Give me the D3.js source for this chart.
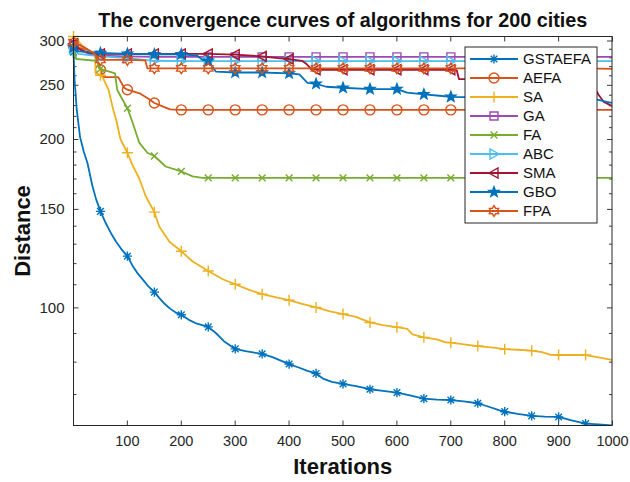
<!DOCTYPE html>
<html>
<head>
<meta charset="utf-8">
<script src="https://cdn.jsdelivr.net/npm/d3@7"></script>
<style>
  body { margin: 0; background: #fff; }
  text { font-family: "Liberation Sans", Arial, Helvetica, sans-serif; }
</style>
</head>
<body>
<svg id="chart" width="630" height="482"></svg>
<script>
// ---- data ---------------------------------------------------------------
const chartTitle = "The convergence curves of algorithms for 200 cities";
const xLabel = "Iterations";
const yLabel = "Distance";

const iterationTicks = [100, 200, 300, 400, 500, 600, 700, 800, 900, 1000];
const distanceTicks = [100, 150, 200, 250, 300];
const distanceMinorTicks = [70, 80, 90, 110, 120, 130, 140, 160, 170, 180, 190,
                            210, 220, 230, 240, 260, 270, 280, 290];
const iterationRange = [1, 1000];
const markerEvery = 50;   // markers on iterations 1, 51, 101, ...

const seriesNames = ["GSTAEFA", "AEFA", "SA", "GA", "FA", "ABC", "SMA", "GBO", "FPA"];
const seriesColors = ["#0072BD", "#D95319", "#EDB120", "#9B4BB3", "#77AC30",
                      "#4DBEEE", "#A2142F", "#0072BD", "#D95319"];
const seriesMarkers = ["asterisk", "circle", "plus", "square", "times",
                       "triangleRight", "triangleLeft", "pentagram", "hexagram"];

// [iteration, best distance]
const gstaefa = [[1,286],[3,255],[7,226],[13,202],[20,190],[27,181],[36,165],[43,156],
  [51,148.5],[60,142],[70,136],[80,131],[90,127],[101,123.5],[110,119],[120,115],[130,112],
  [140,109],[151,106.5],[160,104],[170,101.5],[180,99.5],[190,98],[201,97],[215,95],
  [230,93.5],[251,92.3],[265,90],[280,87],[301,84.3],[320,83.5],[351,82.6],[370,81.5],
  [390,80],[401,79.2],[420,78],[435,77],[451,76.2],[465,74.5],[480,73.6],[501,73],
  [525,72.3],[551,71.4],[575,70.9],[601,70.4],[625,69.6],[651,68.7],[675,68.4],[701,68.3],
  [725,67.9],[751,67.4],[770,66.5],[790,65.5],[801,65.1],[825,64.5],[851,64.0],[875,63.8],
  [901,63.7],[925,62.8],[951,62.0],[975,61.8],[1000,61.5]];
const aefa = [[1,293],[20,290],[40,285],[46,275],[51,266],[56,258],[84,258],[95,247],
  [101,245],[125,241],[140,236],[151,232],[165,229],[180,226],[201,225.5],[251,225.5],
  [301,225.5],[351,225.5],[401,225.5],[451,225.5],[501,225.5],[551,225.5],[601,225.5],
  [651,225.5],[701,225.5],[751,225.5],[801,225.5],[851,225.5],[901,225.5],[951,225.5],
  [1000,225.5]];
const sa = [[1,305],[20,292],[38,285],[41,283],[42,262],[51,260],[55,258],[60,252],[66,245],
  [75,225],[80,217],[88,200],[101,189],[110,180],[123,170],[135,158],[151,148],[160,139.5],
  [179,131],[201,126],[222,120.8],[251,116.2],[278,112.3],[301,110],[327,107.5],[351,105.6],
  [375,104.3],[401,103],[425,101.5],[451,100],[475,98.5],[501,97.3],[525,96.2],[551,94],
  [575,93],[601,92.2],[620,91.5],[630,89.5],[651,88.4],[675,87.7],[690,86.7],[701,86.5],
  [725,85.9],[751,85.3],[775,84.8],[801,84.2],[825,84],[851,83.7],[870,83.2],[885,82.3],
  [901,82.2],[925,82.2],[951,82.2],[970,81.6],[1000,80.6]];
const ga = [[1,295],[15,288],[30,284],[51,282],[101,281],[151,280.5],[201,280.5],[251,280.5],
  [301,280.5],[351,280.5],[401,280.5],[451,280.5],[501,280.5],[551,280.5],[601,280.5],
  [651,280.5],[701,280.5],[751,280.5],[801,280.5],[851,280.5],[901,280.5],[951,280.5],
  [1000,280.5]];
const fa = [[1,292],[6,278],[45,276],[48,268],[51,267],[78,262],[82,245],[90,237],[101,227],
  [110,215],[123,197],[138,189],[151,186.5],[172,178.6],[201,175],[222,171.5],[240,170.5],
  [251,170.5],[301,170.5],[351,170.5],[401,170.5],[451,170.5],[501,170.5],[551,170.5],
  [601,170.5],[651,170.5],[701,170.5],[751,170.5],[801,170.5],[851,170.5],[901,170.5],
  [951,170.5],[1000,170.5]];
const abc = [[1,290],[10,284],[51,281],[101,279],[151,276],[201,275.5],[251,275.5],[301,275.5],
  [351,275.5],[401,275.5],[451,275.5],[501,275.5],[551,275.5],[601,275.5],[651,275.5],
  [701,275.5],[751,275.5],[801,275.5],[851,275.5],[901,275.5],[951,275.5],[1000,275.5]];
const sma = [[1,296],[10,290],[30,285],[51,284],[101,284],[151,284],[201,284],[251,284],
  [301,283],[351,281],[380,279],[401,278],[425,276],[432,273],[440,268],[451,266],[501,266],
  [551,266],[601,266],[651,266],[701,266],[712,265.5],[716,256],[751,256],[801,256],
  [851,256],[901,256],[951,256],[965,250],[975,240],[985,233],[1000,229]];
const gbo = [[1,292],[10,287],[51,285],[101,284],[151,283.5],[201,283.5],[230,282],[240,277],
  [251,276],[258,270],[265,264],[301,263],[351,263],[401,262],[420,261],[435,252],[451,251],
  [470,248],[501,247],[551,245.6],[601,245.6],[620,242],[651,240.4],[680,239],[701,237.9],
  [751,237.5],[801,237.2],[851,237],[901,236.8],[951,236.5],[975,235],[990,233],[1000,232]];
const fpa = [[1,298],[20,292],[40,284],[48,278],[51,277],[101,277],[134,276.5],[138,267.5],
  [151,267.5],[201,267.5],[251,267.5],[301,267.5],[351,267.5],[401,267.5],[451,267.5],
  [501,267.5],[551,267.5],[601,267.5],[651,267.5],[701,267.5],[751,267.5],[801,267.5],
  [851,267.5],[901,267.5],[951,267.5],[1000,267]];

const seriesValues = [gstaefa, aefa, sa, ga, fa, abc, sma, gbo, fpa];

// ---- layout -------------------------------------------------------------
const plot = { left: 73.5, top: 36.5, right: 612, bottom: 425.5 };
const svg = d3.select("#chart");
const ink = "#262626";

const allValues = seriesValues.flat().map(d => d[1]);
const x = d3.scaleLinear().domain(iterationRange).range([plot.left, plot.right]);
const y = d3.scaleLog().domain(d3.extent(allValues)).range([plot.bottom, plot.top]);

// ---- marker shapes ------------------------------------------------------
function starPath(p, points, ro, ri) {
  for (let i = 0; i < points * 2; i++) {
    const a = -Math.PI / 2 + i * Math.PI / points, r = i % 2 ? ri : ro;
    i ? p.lineTo(r * Math.cos(a), r * Math.sin(a)) : p.moveTo(r * Math.cos(a), r * Math.sin(a));
  }
  p.closePath();
}
function markerPath(kind) {
  const p = d3.path();
  if (kind === "asterisk") {
    const r = 4.6, d = r * 0.72;
    p.moveTo(-r, 0); p.lineTo(r, 0); p.moveTo(0, -r); p.lineTo(0, r);
    p.moveTo(-d, -d); p.lineTo(d, d); p.moveTo(-d, d); p.lineTo(d, -d);
  } else if (kind === "circle") {
    p.arc(0, 0, 5, 0, 2 * Math.PI);
  } else if (kind === "plus") {
    const r = 5.5;
    p.moveTo(-r, 0); p.lineTo(r, 0); p.moveTo(0, -r); p.lineTo(0, r);
  } else if (kind === "square") {
    p.rect(-4, -4, 8, 8);
  } else if (kind === "times") {
    const r = 3.4;
    p.moveTo(-r, -r); p.lineTo(r, r); p.moveTo(-r, r); p.lineTo(r, -r);
  } else if (kind === "triangleRight") {
    p.moveTo(5, 0); p.lineTo(-4, -5); p.lineTo(-4, 5); p.closePath();
  } else if (kind === "triangleLeft") {
    p.moveTo(-5, 0); p.lineTo(4, -5); p.lineTo(4, 5); p.closePath();
  } else if (kind === "pentagram") {
    starPath(p, 5, 5.3, 2.2);
  } else if (kind === "hexagram") {
    starPath(p, 6, 5.4, 3.2);
  }
  return p.toString();
}
const filledMarker = kind => kind === "pentagram";

// ---- axes ---------------------------------------------------------------
function styleAxis(g) {
  g.select(".domain").remove();
  g.selectAll(".tick line").attr("stroke", ink).attr("stroke-width", 0.9);
  g.selectAll(".tick text").attr("fill", ink).attr("font-family", null);
}

svg.append("g").attr("transform", `translate(0,${plot.bottom})`)
  .call(d3.axisBottom(x).tickValues(iterationTicks).tickSize(-5).tickPadding(10)
    .tickFormat(d3.format("d")))
  .call(styleAxis)
  .selectAll(".tick text").attr("font-size", 14.5);
svg.append("g").attr("transform", `translate(0,${plot.top})`)
  .call(d3.axisTop(x).tickValues(iterationTicks).tickSize(-5).tickFormat(""))
  .call(styleAxis);

svg.append("g").attr("transform", `translate(${plot.left},0)`)
  .call(d3.axisLeft(y).tickValues(distanceTicks).tickSize(-5).tickPadding(9).tickFormat(d3.format("d")))
  .call(styleAxis)
  .selectAll(".tick text").attr("font-size", 15);
svg.append("g").attr("transform", `translate(${plot.left},0)`)
  .call(d3.axisLeft(y).tickValues(distanceMinorTicks).tickSize(-3).tickFormat(""))
  .call(styleAxis);
svg.append("g").attr("transform", `translate(${plot.right},0)`)
  .call(d3.axisRight(y).tickValues(distanceTicks).tickSize(-5).tickFormat(""))
  .call(styleAxis);
svg.append("g").attr("transform", `translate(${plot.right},0)`)
  .call(d3.axisRight(y).tickValues(distanceMinorTicks).tickSize(-3).tickFormat(""))
  .call(styleAxis);

// ---- curves -------------------------------------------------------------
svg.append("clipPath").attr("id", "plot-clip").append("rect")
  .attr("x", plot.left - 8).attr("y", plot.top - 8)
  .attr("width", plot.right - plot.left + 8).attr("height", plot.bottom - plot.top + 8);

const line = d3.line().x(d => x(d[0])).y(d => y(d[1]));
const curves = svg.append("g").attr("clip-path", "url(#plot-clip)");

seriesValues.forEach((values, i) => {
  const g = curves.append("g");
  g.append("path").datum(values)
    .attr("d", line).attr("fill", "none")
    .attr("stroke", seriesColors[i]).attr("stroke-width", 1.8)
    .attr("stroke-linejoin", "round");
  g.selectAll("path.marker")
    .data(values.filter(d => (d[0] - 1) % markerEvery === 0 && d[0] < iterationRange[1]))
    .join("path").attr("class", "marker")
    .attr("transform", d => `translate(${x(d[0])},${y(d[1])})`)
    .attr("d", markerPath(seriesMarkers[i]))
    .attr("fill", filledMarker(seriesMarkers[i]) ? seriesColors[i] : "none")
    .attr("stroke", seriesColors[i]).attr("stroke-width", 1.4);
});

// plot frame
svg.append("rect")
  .attr("x", plot.left).attr("y", plot.top)
  .attr("width", plot.right - plot.left).attr("height", plot.bottom - plot.top)
  .attr("fill", "none").attr("stroke", ink).attr("stroke-width", 1);

// ---- legend -------------------------------------------------------------
const legend = svg.append("g").attr("transform", "translate(465,47)");
const rowH = 19;
legend.append("rect")
  .attr("width", 132).attr("height", 12 + rowH * (seriesNames.length - 1) + 12)
  .attr("fill", "#fff").attr("stroke", ink).attr("stroke-width", 1);
const rows = legend.selectAll("g.row").data(seriesNames).join("g")
  .attr("class", "row")
  .attr("transform", (d, i) => `translate(0,${12 + i * rowH})`);
rows.append("line").attr("x1", 5).attr("x2", 53)
  .attr("stroke", (d, i) => seriesColors[i]).attr("stroke-width", 1.8);
rows.append("path")
  .attr("transform", "translate(29,0)")
  .attr("d", (d, i) => markerPath(seriesMarkers[i]))
  .attr("fill", (d, i) => filledMarker(seriesMarkers[i]) ? seriesColors[i] : "none")
  .attr("stroke", (d, i) => seriesColors[i]).attr("stroke-width", 1.4);
rows.append("text").attr("x", 58).attr("dy", "0.36em")
  .attr("font-size", 15).attr("fill", "#111").text(d => d);

// ---- titles -------------------------------------------------------------
svg.append("text").attr("x", (plot.left + plot.right) / 2).attr("y", 27)
  .attr("text-anchor", "middle").attr("font-size", 19.8).attr("font-weight", "bold")
  .attr("fill", "#111").text(chartTitle);
svg.append("text").attr("x", (plot.left + plot.right) / 2).attr("y", 474)
  .attr("text-anchor", "middle").attr("font-size", 22).attr("font-weight", "bold")
  .attr("fill", "#111").text(xLabel);
svg.append("text")
  .attr("transform", `translate(30,${(plot.top + plot.bottom) / 2}) rotate(-90)`)
  .attr("text-anchor", "middle").attr("font-size", 22).attr("font-weight", "bold")
  .attr("fill", "#111").text(yLabel);
</script>
</body>
</html>
